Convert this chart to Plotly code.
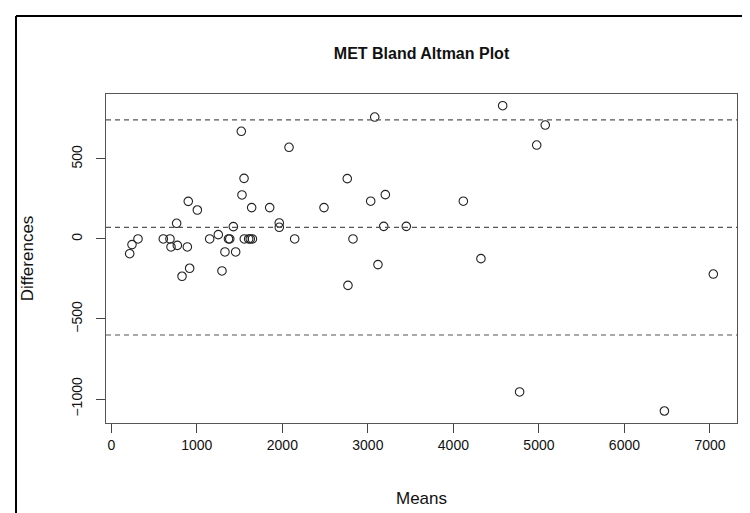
import plotly.graph_objects as go

# Data
means = [215, 242, 312, 608, 686, 698, 772, 764, 889, 827, 916, 900, 1006,
         1150, 1251, 1370, 1385, 1329, 1454, 1294, 1427, 1520, 1552, 1528,
         1555, 1606, 1625, 1650, 1641, 1852, 1964, 1964, 2078, 2144, 2487,
         2759, 3033, 3204, 4116, 2826, 3185, 3449, 3118, 2767, 4322, 3080,
         4576, 5074, 4974, 7039, 4774, 6467]
diffs = [-92, -35, 0, 0, 0, -50, -40, 98, -50, -233, -183, 235, 181,
         0, 27, 0, 0, -81, -81, -200, 77, 673, 379, 275,
         0, 0, 0, 0, 196, 196, 100, 73, 573, 0, 196,
         377, 236, 277, 236, 0, 79, 79, -160, -290, -123, 762,
         833, 712, 587, -219, -956, -1075]
limit_lines = [-600, 72, 744]   # lower LoA, mean difference, upper LoA
x_ticks = [0, 1000, 2000, 3000, 4000, 5000, 6000, 7000]
y_ticks = [-1000, -500, 0, 500]

FONT = "Liberation Sans, Arial, Helvetica, sans-serif"

fig = go.Figure()
fig.add_trace(go.Scatter(
    x=means, y=diffs, mode="markers",
    marker=dict(symbol="circle-open", size=8.5, color="#222222",
                line=dict(width=1.1, color="#222222")),
    showlegend=False, hoverinfo="x+y"))

for v in limit_lines:
    fig.add_shape(type="line", xref="paper", yref="y", x0=0, x1=1, y0=v, y1=v,
                  line=dict(color="#555555", width=1.2, dash="5px,4px"))

# outer frame lines (left and top) visible in the reference crop
W, H = 750, 513
L, R, T, B = 98, 21, 86, 98
pw, ph = W - L - R, H - T - B
def px(xp): return (xp - L) / pw
def py(yp): return (H - B - yp) / ph
fig.add_shape(type="line", xref="paper", yref="paper",
              x0=px(8), x1=px(8), y0=py(8), y1=py(513),
              line=dict(color="black", width=2))
fig.add_shape(type="line", xref="paper", yref="paper",
              x0=px(8), x1=px(750), y0=py(8), y1=py(8),
              line=dict(color="black", width=2))

fig.update_layout(
    width=W, height=H,
    margin=dict(l=L, r=R, t=T, b=B, autoexpand=False),
    paper_bgcolor="white", plot_bgcolor="white",
    font=dict(family=FONT, size=14, color="#111111"),
    title=dict(text="<b>MET Bland Altman Plot</b>", xref="paper", x=0.5,
               xanchor="center", yref="container",
               y=1 - 45 / H, yanchor="middle",
               font=dict(family=FONT, size=16, color="#111111")),
    xaxis=dict(range=[-62, 7316], tickvals=x_ticks, ticks="outside", ticklen=9,
               tickcolor="#444444", showline=True, linecolor="#555555", linewidth=1,
               mirror=True, showgrid=False, zeroline=False, automargin=False,
               title=dict(text="Means", standoff=40),
               ticklabelstandoff=0),
    yaxis=dict(range=[-1150, 906], tickvals=y_ticks, ticks="outside", ticklen=9,
               tickcolor="#444444", showline=True, linecolor="#555555", linewidth=1,
               mirror=True, showgrid=False, zeroline=False, tickangle=-90,
               automargin=False,
               title=dict(text="Differences", standoff=31),
               ticklabelstandoff=8),
)

fig.write_html("out.html")
